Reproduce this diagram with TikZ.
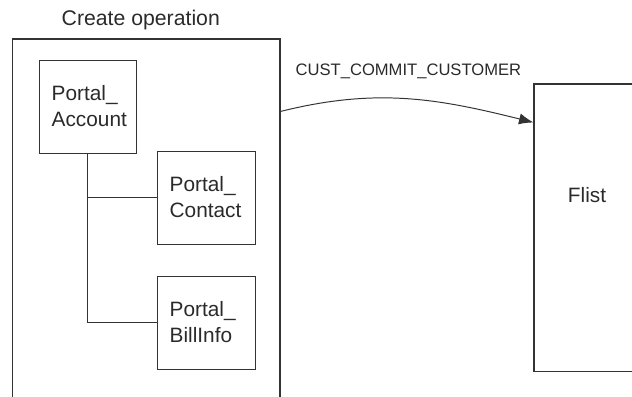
\documentclass[tikz,border=0pt]{standalone}
\usepackage{fontspec}
\setmainfont{Liberation Sans}
\usepackage{xcolor}
\usetikzlibrary{calc}
\usetikzlibrary{positioning}
\usetikzlibrary{arrows.meta}
\definecolor{C0}{HTML}{2a2a2a}
\definecolor{C7}{HTML}{333333}

\begin{document}
\begin{tikzpicture}[
  every node/.style={text=C0},
  tablebox/.style={draw=C7, line width=0.7pt, rectangle, align=left, text width=1.79cm, inner xsep=0.3175cm, minimum height=2.325cm, font=\fontsize{14.8}{18.5}\selectfont},
  frame/.style={draw=C7, line width=0.8pt, rectangle, inner sep=0pt}
]
\useasboundingbox (0,0) rectangle (15.8,-9.9);
\node[frame, minimum width=6.6875cm, minimum height=9.525cm] (operation) at (3.656,-5.7375) {};
\node[font=\fontsize{15.1}{18}\selectfont] (optitle) at (3.52,-0.5) {Create operation};
\node[tablebox] (account) at (2.1875,-2.6625) {Portal\_\\Account};
\node[tablebox, text width=1.815cm] (contact) at (5.15,-4.9375) {Portal\_\\Contact};
\node[tablebox, text width=1.815cm] (billinfo) at (5.15,-8.0625) {Portal\_\\BillInfo};
\draw[-, C7, line width=0.7pt] (account.south) |- (contact.west);
\draw[-, C7, line width=0.7pt] (account.south) |- (billinfo.west);
\node[frame, minimum width=4.15cm, minimum height=7.1875cm] (flist) at (15.425,-5.694) {};
\node[anchor=west, font=\fontsize{14.8}{18}\selectfont] (flisttext) at (14.075,-4.875) {Flist};
\path (operation.north east) ++(0,-1.825) coordinate (commitstart);
\path (flist.north west) ++(0,-0.975) coordinate (commitend);
\draw[-{Latex[length=0.36cm,width=0.28cm]}, C7, line width=0.7pt] (commitstart) to[out=14, in=166] (commitend);
\node[font=\fontsize{11.8}{14}\selectfont] (commitlabel) at (10.21,-1.775) {CUST\_COMMIT\_CUSTOMER};
\end{tikzpicture}
\end{document}
